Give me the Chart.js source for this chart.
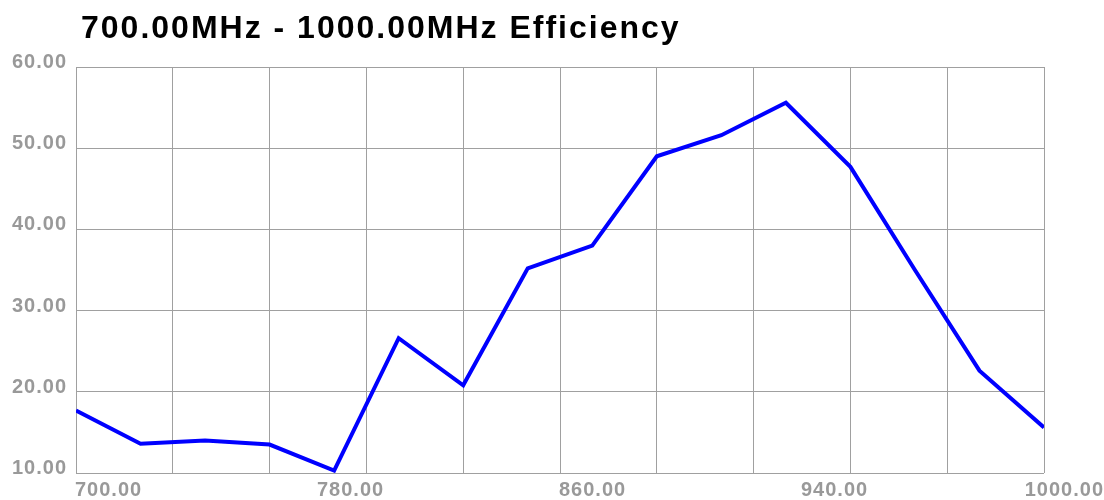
<!DOCTYPE html>
<html>
<head>
<meta charset="utf-8">
<script src="https://cdn.jsdelivr.net/npm/chart.js@4/dist/chart.umd.min.js"></script>
<style>
  html, body { margin: 0; padding: 0; background: #fff; }
  #wrap { width: 1104px; height: 500px; }
</style>
</head>
<body>
<div id="wrap"><canvas id="effChart" width="1104" height="500"></canvas></div>
<script>
// data
const titleText = '700.00MHz - 1000.00MHz Efficiency';
const freqs = [700, 720, 740, 760, 780, 800, 820, 840, 860, 880, 900, 920, 940, 960, 980, 1000];
const efficiency = [17.7, 13.6, 14.0, 13.5, 10.3, 26.6, 20.8, 35.2, 38.0, 49.0, 51.6, 55.6, 47.7, 35.0, 22.6, 15.6];
const xLabels = ['700.00', '780.00', '860.00', '940.00', '1000.00'];
const yLabels = ['10.00', '20.00', '30.00', '40.00', '50.00', '60.00'];
const yValues = [10, 20, 30, 40, 50, 60];

const labelColor = '#999999';
const gridColor = '#a0a0a0';

document.addEventListener('DOMContentLoaded', () => {
  drawChart();
});

const drawChart = () => {
  const ctx = document.getElementById('effChart').getContext('2d');

  // title + axis labels (old style chart: x labels are spread evenly, not on the grid)
  const textPlugin = {
    id: 'textPlugin',
    afterDraw(chart) {
      const c = chart.ctx;
      const xs = chart.scales.x;
      const ys = chart.scales.y;
      c.save();

      c.font = "bold 32px 'Liberation Sans', Arial, sans-serif";
      c.fillStyle = '#000';
      c.textAlign = 'left';
      c.textBaseline = 'alphabetic';
      c.letterSpacing = '2px';
      c.fillText(titleText, 81, 38);

      c.font = "bold 20px 'Liberation Sans', Arial, sans-serif";
      c.fillStyle = labelColor;
      c.letterSpacing = '1px';

      // y labels sit on top of their grid line
      c.textAlign = 'right';
      yValues.forEach((v, i) => {
        c.fillText(yLabels[i], 67, ys.getPixelForValue(v) + 1);
      });

      // x labels
      c.textAlign = 'left';
      const step = (xs.max - xs.min) / (xLabels.length - 1);
      xLabels.forEach((lbl, i) => {
        let x = xs.getPixelForValue(xs.min + step * i) - 1;
        const w = c.measureText(lbl).width;
        if (x + w > chart.width) x = chart.width - w;
        c.fillText(lbl, x, 496);
      });

      c.restore();
    }
  };

  new Chart(ctx, {
    type: 'line',
    data: {
      datasets: [{
        label: 'Efficiency',
        data: freqs.map((f, i) => ({ x: f, y: efficiency[i] })),
        borderColor: '#0000ff',
        borderWidth: 4,
        pointRadius: 0,
        tension: 0,
        fill: false
      }]
    },
    options: {
      responsive: false,
      animation: false,
      layout: {
        padding: { left: 76, top: 67, right: 60, bottom: 27 }
      },
      scales: {
        x: {
          type: 'linear',
          min: 700,
          max: 1000,
          ticks: { stepSize: 30, display: false },
          grid: { color: gridColor, lineWidth: 1, drawTicks: false },
          border: { display: false }
        },
        y: {
          min: 10,
          max: 60,
          ticks: { stepSize: 10, display: false },
          grid: { color: gridColor, lineWidth: 1, drawTicks: false },
          border: { display: false }
        }
      },
      plugins: {
        legend: { display: false },
        title: { display: false },
        tooltip: { enabled: false }
      }
    },
    plugins: [textPlugin]
  });
};
</script>
</body>
</html>
